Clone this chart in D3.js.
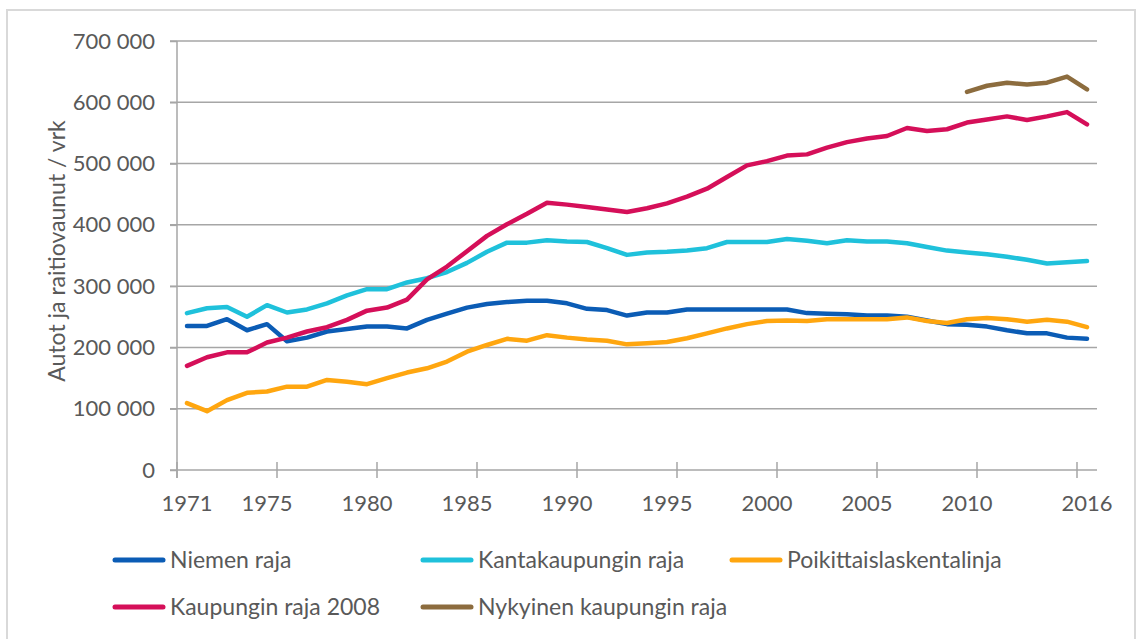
<!DOCTYPE html>
<html>
<head>
<meta charset="utf-8">
<script src="https://cdn.jsdelivr.net/npm/d3@7"></script>
<style>
  html, body { margin: 0; padding: 0; background: #fff; }
  svg text { font-family: Lato, 'Open Sans', sans-serif; fill: #595959; }
</style>
</head>
<body>
<svg id="canvas" width="1145" height="639"></svg>
<script>
// ---------------------------------------------------------------- //
// Data (vehicles per day)

var years = d3.range(1971, 2017);
var labelYears = [1971, 1975, 1980, 1985, 1990, 1995, 2000, 2005, 2010, 2016];
var yTicks = [0, 100000, 200000, 300000, 400000, 500000, 600000, 700000];

var niemenRaja = [235, 235, 246, 228, 238, 210, 216, 226, 230, 234, 234, 231, 245, 255, 265, 271, 274, 276, 276, 272,
  263, 261, 252, 257, 257, 262, 262, 262, 262, 262, 262, 256, 255, 254, 252, 252, 250, 244, 238, 237, 234, 228, 223, 223, 216, 214];
var kantakaupunginRaja = [256, 264, 266, 250, 269, 257, 262, 272, 285, 295, 295, 306, 313, 323, 338, 356, 371, 371, 375, 373,
  372, 362, 351, 355, 356, 358, 362, 372, 372, 372, 377, 374, 370, 375, 373, 373, 370, 364, 358, 355, 352, 348, 343, 337, 339, 341];
var poikittaislaskentalinja = [109, 96, 114, 126, 128, 136, 136, 147, 144, 140, 150, 159, 166, 177, 193, 204, 214, 211, 220, 216,
  213, 211, 205, 207, 209, 215, 223, 231, 238, 243, 244, 243, 246, 246, 246, 246, 249, 243, 240, 246, 248, 246, 242, 245, 242, 233];
var kaupunginRaja2008 = [170, 184, 192, 192, 208, 216, 226, 233, 245, 260, 265, 278, 311, 332, 357, 382, 401, 418, 436, 433,
  429, 425, 421, 427, 435, 446, 459, 478, 497, 504, 513, 515, 526, 535, 541, 545, 558, 553, 556, 567, 572, 577, 571, 577, 584, 564];
var nykyinenRaja = [null, null, null, null, null, null, null, null, null, null, null, null, null, null, null, null, null, null, null, null,
  null, null, null, null, null, null, null, null, null, null, null, null, null, null, null, null, null, null, null, 617, 627, 632, 629, 632, 642, 621];

var seriesNames = ['Niemen raja', 'Kantakaupungin raja', 'Poikittaislaskentalinja', 'Kaupungin raja 2008', 'Nykyinen kaupungin raja'];
var seriesValues = [niemenRaja, kantakaupunginRaja, poikittaislaskentalinja, kaupunginRaja2008, nykyinenRaja];
var seriesColors = ['#0B5CB5', '#1FC1DB', '#FFA60F', '#D50F59', '#8C6C3E'];

// ---------------------------------------------------------------- //
// Setup

var svg = d3.select('#canvas');
var gridColor = '#a6a6a6';

// outer frame
svg.append('rect').attr('x', 7).attr('y', 10).attr('width', 1128).attr('height', 660)
  .attr('fill', 'none').attr('stroke', '#d9d9d9').attr('stroke-width', 2);

var xScale = d3.scaleBand().domain(years).range([177, 1097]).padding(0);
var yScale = d3.scaleLinear().domain([0, 700000]).range([470, 41]);
var fmt = d3.formatLocale({ decimal: ',', thousands: ' ', grouping: [3], currency: ['', ''] }).format(',d');

// gridlines
svg.append('g').selectAll('line').data(yTicks.filter(d => d > 0)).join('line')
  .attr('x1', 170).attr('x2', 1097)
  .attr('y1', d => yScale(d)).attr('y2', d => yScale(d))
  .attr('stroke', gridColor).attr('stroke-width', 1.5);

// y axis
var yAxis = svg.append('g').attr('transform', 'translate(177,0)')
  .call(d3.axisLeft(yScale).tickValues(yTicks).tickSize(7).tickPadding(15).tickFormat(fmt));
yAxis.select('.domain').attr('stroke', gridColor).attr('stroke-width', 1.5).attr('d', 'M0,41V478');
yAxis.selectAll('.tick line').attr('stroke', gridColor).attr('stroke-width', 1.5);
yAxis.selectAll('.tick text').attr('font-size', 22).attr('font-family', 'Lato').attr('fill', '#595959');

// x axis (ticks on category boundaries, labels on category centres)
var xg = svg.append('g');
xg.append('line').attr('x1', 170).attr('x2', 1097).attr('y1', yScale(0)).attr('y2', yScale(0))
  .attr('stroke', gridColor).attr('stroke-width', 1.5);
xg.selectAll('line.tk').data(years.filter((d, i) => i % 5 === 0)).join('line').attr('class', 'tk')
  .attr('x1', d => xScale(d)).attr('x2', d => xScale(d))
  .attr('y1', yScale(0) - 8).attr('y2', yScale(0) + 8)
  .attr('stroke', gridColor).attr('stroke-width', 1.5);
xg.selectAll('text').data(labelYears).join('text')
  .attr('x', d => xScale(d) + xScale.bandwidth() / 2).attr('y', 511)
  .attr('text-anchor', 'middle').attr('font-size', 22).text(d => d);

// y axis title
svg.append('text').attr('transform', 'translate(65,251) rotate(-90)')
  .attr('text-anchor', 'middle').attr('font-size', 23).text('Autot ja raitiovaunut / vrk');

// lines
var lineGen = d3.line()
  .defined(d => d.v != null)
  .x(d => xScale(d.year) + xScale.bandwidth() / 2)
  .y(d => yScale(d.v * 1000));

svg.append('g').selectAll('path').data(seriesValues).join('path')
  .attr('d', vals => lineGen(years.map((yr, i) => ({ year: yr, v: vals[i] }))))
  .attr('fill', 'none')
  .attr('stroke', (d, i) => seriesColors[i])
  .attr('stroke-width', 4.5)
  .attr('stroke-linejoin', 'round')
  .attr('stroke-linecap', 'round');

// legend
var legendPos = [[115, 560], [423, 560], [732, 560], [115, 607], [423, 607]];
var legend = svg.append('g').selectAll('g').data(seriesNames).join('g')
  .attr('transform', (d, i) => 'translate(' + legendPos[i][0] + ',' + legendPos[i][1] + ')');
legend.append('line').attr('x1', 0).attr('x2', 48).attr('y1', 0).attr('y2', 0)
  .attr('stroke', (d, i) => seriesColors[i]).attr('stroke-width', 5).attr('stroke-linecap', 'round');
legend.append('text').attr('x', 55).attr('y', 8).attr('font-size', 23).text(d => d);
</script>
</body>
</html>
